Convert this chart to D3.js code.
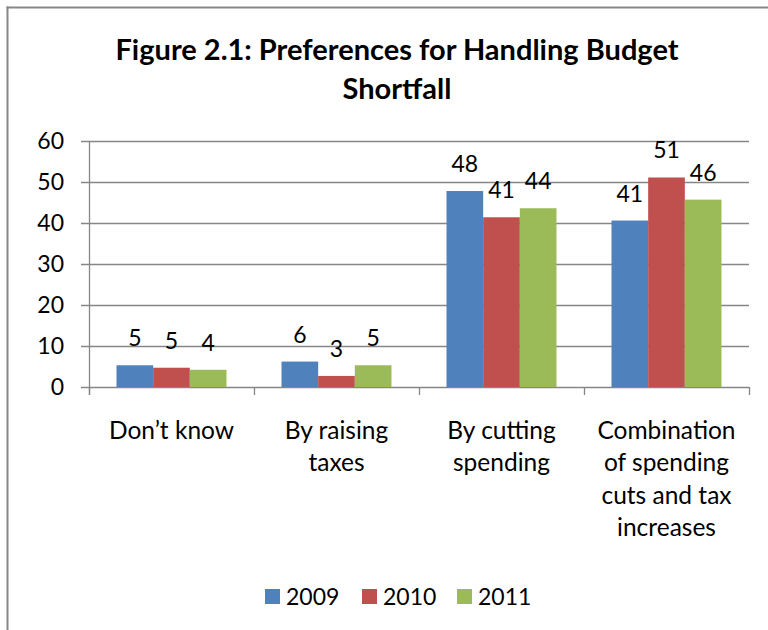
<!DOCTYPE html>
<html>
<head>
<meta charset="utf-8">
<script src="https://cdn.jsdelivr.net/npm/d3@7"></script>
<style>
  body { margin: 0; background: #fff; }
  text { font-family: Lato, "Open Sans", sans-serif; fill: #000; }
</style>
</head>
<body>
<script>
var width = 768,
    height = 630;

// data
var categories = ["Don’t know", "By raising taxes", "By cutting spending", "Combination of spending cuts and tax increases"];
var categoryLines = [["Don’t know"], ["By raising", "taxes"], ["By cutting", "spending"], ["Combination", "of spending", "cuts and tax", "increases"]];
var years = ["2009", "2010", "2011"];
var values2009 = [5.3, 6.2, 47.8, 40.6];
var values2010 = [4.7, 2.7, 41.4, 51.1];
var values2011 = [4.2, 5.3, 43.6, 45.7];
var yTicks = [0, 10, 20, 30, 40, 50, 60];
var titleLines = ["Figure 2.1: Preferences for Handling Budget", "Shortfall"];

var colors = ["#4F81BD", "#C0504D", "#9BBB59"];
var series = [values2009, values2010, values2011];

var rows = [];
categories.forEach(function (c, i) {
    series.forEach(function (s, j) {
        rows.push({cat: c, year: years[j], value: s[i], idx: j});
    });
});

var svg = d3.select("body").append("svg")
    .attr("width", width)
    .attr("height", height);

// outer chart border (only top & left visible)
svg.append("line").attr("x1", 6.5).attr("x2", width).attr("y1", 7.5).attr("y2", 7.5)
    .attr("stroke", "#878787").attr("stroke-width", 2);
svg.append("line").attr("x1", 7.5).attr("x2", 7.5).attr("y1", 6.5).attr("y2", height)
    .attr("stroke", "#878787").attr("stroke-width", 2);

// title
svg.append("text")
    .attr("text-anchor", "middle")
    .style("font-weight", "bold")
    .style("font-size", "29px")
    .selectAll("tspan")
    .data(titleLines)
    .enter().append("tspan")
    .attr("x", 397)
    .attr("y", function (d, i) { return 60 + i * 39; })
    .text(function (d) { return d; });

var pLeft = 89, pRight = 749, pTop = 141, pBottom = 387;

var y = d3.scaleLinear().domain([0, 60]).range([pBottom, pTop]);
var x0 = d3.scaleBand().domain(categories).range([pLeft, pRight]).padding(0);
var bw = x0.bandwidth();
var x1 = d3.scaleBand().domain(years).range([bw / 6, bw * 5 / 6]).padding(0);

// gridlines
svg.append("g").selectAll("line")
    .data(yTicks)
    .enter().append("line")
    .attr("x1", pLeft - 8)
    .attr("x2", pRight)
    .attr("y1", function (d) { return Math.round(y(d)) + 0.5; })
    .attr("y2", function (d) { return Math.round(y(d)) + 0.5; })
    .attr("stroke", "#868686")
    .attr("stroke-width", 1.3);

// y tick labels
svg.append("g").selectAll("text")
    .data(yTicks)
    .enter().append("text")
    .attr("x", 64)
    .attr("y", function (d) { return y(d) + 8; })
    .attr("text-anchor", "end")
    .style("font-size", "23px")
    .text(function (d) { return d; });

// y axis line
svg.append("line")
    .attr("x1", pLeft + 0.5).attr("x2", pLeft + 0.5)
    .attr("y1", pTop).attr("y2", pBottom + 8)
    .attr("stroke", "#868686").attr("stroke-width", 1.3);

// category tick marks
svg.append("g").selectAll("line")
    .data(d3.range(categories.length + 1))
    .enter().append("line")
    .attr("x1", function (i) { return pLeft + i * bw + 0.5; })
    .attr("x2", function (i) { return pLeft + i * bw + 0.5; })
    .attr("y1", pBottom)
    .attr("y2", pBottom + 8)
    .attr("stroke", "#868686").attr("stroke-width", 1.3);

// bars
svg.append("g").selectAll("rect")
    .data(rows)
    .enter().append("rect")
    .attr("x", function (d) { return x0(d.cat) + x1(d.year); })
    .attr("width", x1.bandwidth())
    .attr("y", function (d) { return y(d.value); })
    .attr("height", function (d) { return pBottom - y(d.value); })
    .attr("fill", function (d) { return colors[d.idx]; });

// value labels
svg.append("g").selectAll("text")
    .data(rows)
    .enter().append("text")
    .attr("x", function (d) { return x0(d.cat) + x1(d.year) + x1.bandwidth() / 2; })
    .attr("y", function (d) { return y(d.value) - 19; })
    .attr("text-anchor", "middle")
    .style("font-size", "23px")
    .text(function (d) { return Math.round(d.value); });

// category labels
var catG = svg.append("g").selectAll("text")
    .data(categories)
    .enter().append("text")
    .attr("text-anchor", "middle")
    .style("font-size", "24.5px");
catG.selectAll("tspan")
    .data(function (d, i) { return categoryLines[i].map(function (l) { return {cat: d, line: l}; }); })
    .enter().append("tspan")
    .attr("x", function (d) { return x0(d.cat) + bw / 2; })
    .attr("y", function (d, i) { return 439 + i * 32.3; })
    .text(function (d) { return d.line; });

// legend
var legendX = [265, 362, 457];
var legend = svg.append("g").selectAll("g")
    .data(years)
    .enter().append("g")
    .attr("transform", function (d, i) { return "translate(" + legendX[i] + ",589)"; });
legend.append("rect")
    .attr("width", 15).attr("height", 15)
    .attr("fill", function (d, i) { return colors[i]; });
legend.append("text")
    .attr("x", 21)
    .attr("y", 16)
    .style("font-size", "23px")
    .text(function (d) { return d; });
</script>
</body>
</html>
